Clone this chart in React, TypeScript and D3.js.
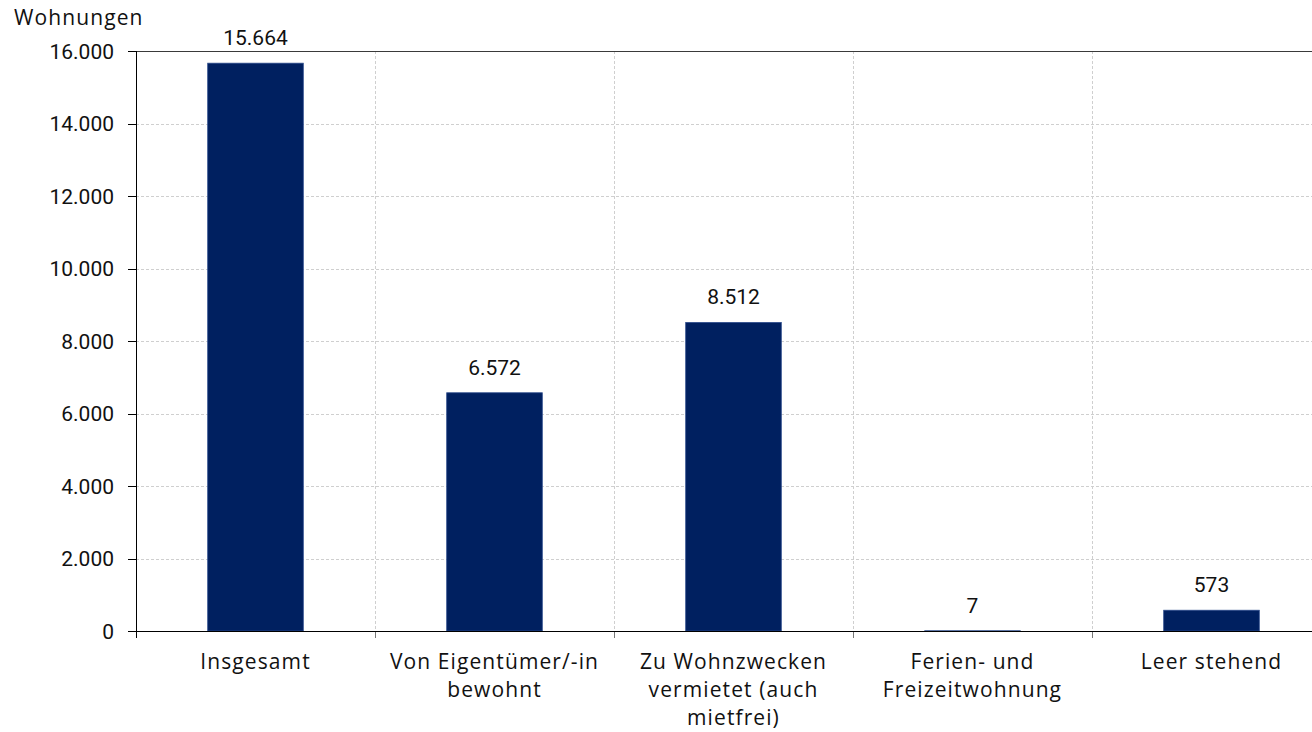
import React, { useEffect, useRef } from "react";
import * as d3 from "d3";

const categories: string[][] = [
  ["Insgesamt"],
  ["Von Eigentümer/-in", "bewohnt"],
  ["Zu Wohnzwecken", "vermietet (auch", "mietfrei)"],
  ["Ferien- und", "Freizeitwohnung"],
  ["Leer stehend"],
];
const values: number[] = [15664, 6572, 8512, 7, 573];
const yTicks: number[] = [0, 2000, 4000, 6000, 8000, 10000, 12000, 14000, 16000];
const yTitle = "Wohnungen";

const W = 1312;
const H = 732;
const M = { left: 136, top: 51, bottom: 631, right: 1331 };
const BAR = "#002060";
const NUM_FONT = "Roboto, 'Liberation Sans', sans-serif";
const TXT_FONT = "'Open Sans', 'Noto Sans', sans-serif";

const fmt = (v: number) => d3.format(",")(v).replace(/,/g, ".");

export default function App() {
  const ref = useRef<SVGSVGElement>(null);

  useEffect(() => {
    const svg = d3.select(ref.current);
    svg.selectAll("*").remove();

    const keys = categories.map((_, i) => String(i));
    const x = d3.scaleBand<string>().domain(keys).range([M.left, M.right]).paddingInner(0).paddingOuter(0);
    const y = d3.scaleLinear().domain([0, 16000]).range([M.bottom, M.top]);
    const bw = x.bandwidth();
    const barW = bw * 0.4;

    // horizontal grid
    const g = svg.append("g");
    g.selectAll("line.hg")
      .data(yTicks.filter((t) => t > 0 && t < 16000))
      .join("line")
      .attr("x1", M.left)
      .attr("x2", W)
      .attr("y1", (d) => Math.round(y(d)) + 0.5)
      .attr("y2", (d) => Math.round(y(d)) + 0.5)
      .attr("stroke", "#cfcfcf")
      .attr("stroke-dasharray", "3,2");

    // vertical grid at category boundaries
    const bounds = keys.slice(1).map((k) => x(k)!);
    g.selectAll("line.vg")
      .data(bounds)
      .join("line")
      .attr("x1", (d) => Math.round(d) + 0.5)
      .attr("x2", (d) => Math.round(d) + 0.5)
      .attr("y1", M.top)
      .attr("y2", M.bottom)
      .attr("stroke", "#cfcfcf")
      .attr("stroke-dasharray", "3,2");

    // x tick marks below the axis
    g.selectAll("line.xt")
      .data(bounds)
      .join("line")
      .attr("x1", (d) => Math.round(d) + 0.5)
      .attr("x2", (d) => Math.round(d) + 0.5)
      .attr("y1", M.bottom)
      .attr("y2", M.bottom + 7)
      .attr("stroke", "#777");

    // top border
    g.append("line")
      .attr("x1", M.left)
      .attr("x2", W)
      .attr("y1", M.top + 0.5)
      .attr("y2", M.top + 0.5)
      .attr("stroke", "#3a3a3a");

    // bars
    g.selectAll("rect.bar")
      .data(values)
      .join("rect")
      .attr("x", (_, i) => x(keys[i])! + (bw - barW) / 2)
      .attr("width", barW)
      .attr("y", (d) => y(d))
      .attr("height", (d) => Math.max(y(0) - y(d), 0))
      .attr("fill", BAR)
      .attr("stroke", "#2d4c8c")
      .attr("stroke-width", 0.8);

    // value labels
    g.selectAll("text.val")
      .data(values)
      .join("text")
      .attr("x", (_, i) => x(keys[i])! + bw / 2)
      .attr("y", (d) => y(d) - 18)
      .attr("text-anchor", "middle")
      .attr("font-family", NUM_FONT)
      .attr("font-size", 21)
      .attr("fill", "#111")
      .text((d) => fmt(d));

    // y axis
    g.append("line")
      .attr("x1", M.left + 0.5)
      .attr("x2", M.left + 0.5)
      .attr("y1", M.top)
      .attr("y2", M.bottom + 7)
      .attr("stroke", "#000");
    g.selectAll("line.yt")
      .data(yTicks)
      .join("line")
      .attr("x1", M.left - 8)
      .attr("x2", M.left)
      .attr("y1", (d) => Math.round(y(d)) + 0.5)
      .attr("y2", (d) => Math.round(y(d)) + 0.5)
      .attr("stroke", "#000");
    g.selectAll("text.yl")
      .data(yTicks)
      .join("text")
      .attr("x", 114)
      .attr("y", (d) => y(d))
      .attr("dy", "0.36em")
      .attr("text-anchor", "end")
      .attr("font-family", NUM_FONT)
      .attr("font-size", 21)
      .attr("fill", "#111")
      .text((d) => fmt(d));

    // x axis
    g.append("line")
      .attr("x1", M.left)
      .attr("x2", W)
      .attr("y1", M.bottom + 0.5)
      .attr("y2", M.bottom + 0.5)
      .attr("stroke", "#000");

    // category labels
    const cl = g.selectAll("text.cat")
      .data(categories)
      .join("text")
      .attr("x", (_, i) => x(keys[i])! + bw / 2)
      .attr("y", 669)
      .attr("text-anchor", "middle")
      .attr("font-family", TXT_FONT)
      .attr("font-size", 21)
      .attr("letter-spacing", 1.1)
      .attr("fill", "#111");
    cl.selectAll("tspan")
      .data((d) => d)
      .join("tspan")
      .attr("x", function () {
        return (this as SVGTSpanElement).parentElement!.getAttribute("x");
      })
      .attr("dy", (_, j) => (j === 0 ? 0 : 28))
      .text((d) => d);

    // axis title
    g.append("text")
      .attr("x", 14)
      .attr("y", 25)
      .attr("font-family", TXT_FONT)
      .attr("font-size", 21)
      .attr("letter-spacing", 1.1)
      .attr("fill", "#111")
      .text(yTitle);
  }, []);

  return (
    <svg
      ref={ref}
      width={W}
      height={H}
      style={{ position: "absolute", left: 0, top: 0, background: "#fff" }}
    />
  );
}
